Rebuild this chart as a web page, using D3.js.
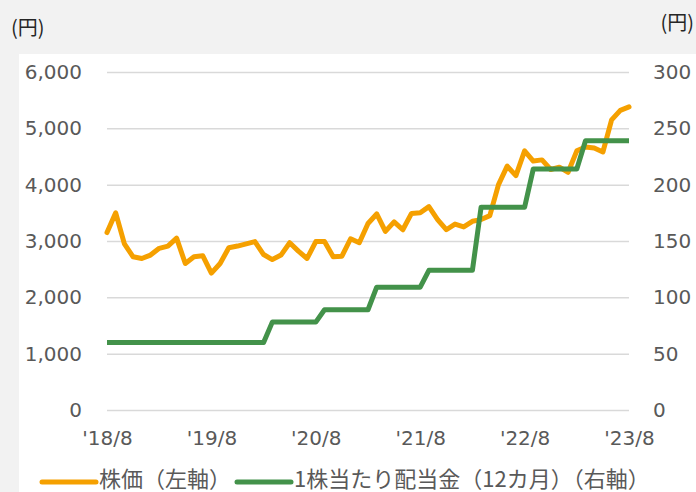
<!DOCTYPE html>
<html>
<head>
<meta charset="utf-8">
<script src="https://cdn.jsdelivr.net/npm/d3@7"></script>
<style>
  body { margin: 0; background: #f2f2f2; }
  svg { display: block; }
</style>
</head>
<body>
<div id="chart-area"></div>
<script>
var width = 696;
var height = 492;

// monthly, 2018/8 .. 2023/8
var months = [
  "2018-08","2018-09","2018-10","2018-11","2018-12",
  "2019-01","2019-02","2019-03","2019-04","2019-05","2019-06","2019-07","2019-08","2019-09","2019-10","2019-11","2019-12",
  "2020-01","2020-02","2020-03","2020-04","2020-05","2020-06","2020-07","2020-08","2020-09","2020-10","2020-11","2020-12",
  "2021-01","2021-02","2021-03","2021-04","2021-05","2021-06","2021-07","2021-08","2021-09","2021-10","2021-11","2021-12",
  "2022-01","2022-02","2022-03","2022-04","2022-05","2022-06","2022-07","2022-08","2022-09","2022-10","2022-11","2022-12",
  "2023-01","2023-02","2023-03","2023-04","2023-05","2023-06","2023-07","2023-08"
];

// 株価 (left axis)
var price = [
  3150, 3500, 2950, 2720, 2690,
  2750, 2870, 2910, 3050, 2600, 2720, 2740, 2430, 2600, 2880, 2910, 2950,
  2990, 2760, 2670, 2750, 2970, 2820, 2690, 2990, 2990, 2720, 2730, 3040,
  2970, 3310, 3480, 3170, 3340, 3200, 3490, 3500, 3610, 3380, 3200, 3300,
  3250, 3350, 3380, 3450, 4000, 4330, 4160, 4600, 4420, 4440, 4270, 4310,
  4220, 4600, 4670, 4650, 4580, 5150, 5320, 5380
];

// 1株当たり配当金 12カ月 (right axis)
var dividend = [
  60, 60, 60, 60, 60,
  60, 60, 60, 60, 60, 60, 60, 60, 60, 60, 60, 60,
  60, 60, 78, 78, 78, 78, 78, 78, 89, 89, 89, 89,
  89, 89, 109, 109, 109, 109, 109, 109, 124, 124, 124, 124,
  124, 124, 180, 180, 180, 180, 180, 180, 214, 214, 214, 214,
  214, 214, 239, 239, 239, 239, 239, 239
];

var leftTicks = [0, 1000, 2000, 3000, 4000, 5000, 6000];
var rightTicks = [0, 50, 100, 150, 200, 250, 300];
var xTickMonths = ["2018-08","2019-08","2020-08","2021-08","2022-08","2023-08"];
var xTickLabels = ["'18/8","'19/8","'20/8","'21/8","'22/8","'23/8"];

var legendItems = ["株価（左軸）", "1株当たり配当金（12カ月）（右軸）"];
var colors = ["#f5a000", "#43924a"];

var plot = {left: 107, right: 629, top: 72, bottom: 410};
var font = "'DejaVu Sans', Verdana, sans-serif";
var jpFont = "'Noto Sans CJK JP', sans-serif";

var svg = d3.select("#chart-area").append("svg")
    .attr("width", width)
    .attr("height", height);

svg.append("rect")
    .attr("width", width).attr("height", height)
    .attr("fill", "#f2f2f2");

// white panel
svg.append("rect")
    .attr("x", 19).attr("y", 54)
    .attr("width", width - 19).attr("height", height - 54)
    .attr("fill", "#ffffff");

var x = d3.scalePoint()
    .domain(months)
    .range([plot.left, plot.right]);

var yL = d3.scaleLinear()
    .domain([0, 6000])
    .range([plot.bottom, plot.top]);

var yR = d3.scaleLinear()
    .domain([0, 300])
    .range([plot.bottom, plot.top]);

//gridlines + left axis
var leftAxis = d3.axisLeft(yL)
    .tickValues(leftTicks)
    .tickFormat(d3.format(","))
    .tickSize(-(plot.right - plot.left))
    .tickPadding(25);

var gL = svg.append("g")
    .attr("transform", "translate(" + plot.left + ",0)")
    .call(leftAxis);
gL.select(".domain").remove();
gL.selectAll(".tick line").attr("stroke", "#d9d9d9").attr("stroke-width", 1.5);
gL.selectAll(".tick text")
    .attr("fill", "#595959")
    .style("font-family", font)
    .style("font-size", "20px");

//right axis
var rightAxis = d3.axisRight(yR)
    .tickValues(rightTicks)
    .tickSize(0)
    .tickPadding(24);

var gR = svg.append("g")
    .attr("transform", "translate(" + plot.right + ",0)")
    .call(rightAxis);
gR.select(".domain").remove();
gR.selectAll(".tick text")
    .attr("fill", "#595959")
    .style("font-family", font)
    .style("font-size", "20px");

//x axis
var xAxis = d3.axisBottom(x)
    .tickValues(xTickMonths)
    .tickFormat(function(d) { return xTickLabels[xTickMonths.indexOf(d)]; })
    .tickSize(0)
    .tickPadding(21);

var gX = svg.append("g")
    .attr("transform", "translate(0," + plot.bottom + ")")
    .call(xAxis);
gX.select(".domain").remove();
gX.selectAll(".tick text")
    .attr("fill", "#595959")
    .style("font-family", font)
    .style("font-size", "20px");

// unit labels
svg.append("text")
    .text("(円)")
    .attr("x", 11).attr("y", 35)
    .attr("fill", "#262626")
    .style("font-family", jpFont)
    .style("font-size", "20px");

svg.append("text")
    .text("(円)")
    .attr("x", 694).attr("y", 30)
    .attr("text-anchor", "end")
    .attr("fill", "#262626")
    .style("font-family", jpFont)
    .style("font-size", "20px");

// lines
var priceLine = d3.line()
    .x(function(d, i) { return x(months[i]); })
    .y(function(d) { return yL(d); });

var divLine = d3.line()
    .x(function(d, i) { return x(months[i]); })
    .y(function(d) { return yR(d); });

svg.append("path")
    .attr("d", priceLine(price))
    .attr("fill", "none")
    .attr("stroke", colors[0])
    .attr("stroke-width", 5)
    .attr("stroke-linejoin", "round")
    .attr("stroke-linecap", "round");

svg.append("path")
    .attr("d", divLine(dividend))
    .attr("fill", "none")
    .attr("stroke", colors[1])
    .attr("stroke-width", 5)
    .attr("stroke-linejoin", "round");

// legend
var legendX = [42, 237];
legendItems.forEach(function(label, i) {
    svg.append("line")
        .attr("x1", legendX[i]).attr("x2", legendX[i] + 54)
        .attr("y1", 482).attr("y2", 482)
        .attr("stroke", colors[i])
        .attr("stroke-width", 5)
        .attr("stroke-linecap", "round");
    svg.append("text")
        .text(label)
        .attr("x", legendX[i] + 57).attr("y", 487)
        .attr("fill", "#595959")
        .style("font-family", jpFont)
        .style("font-size", "22px");
});
</script>
</body>
</html>
